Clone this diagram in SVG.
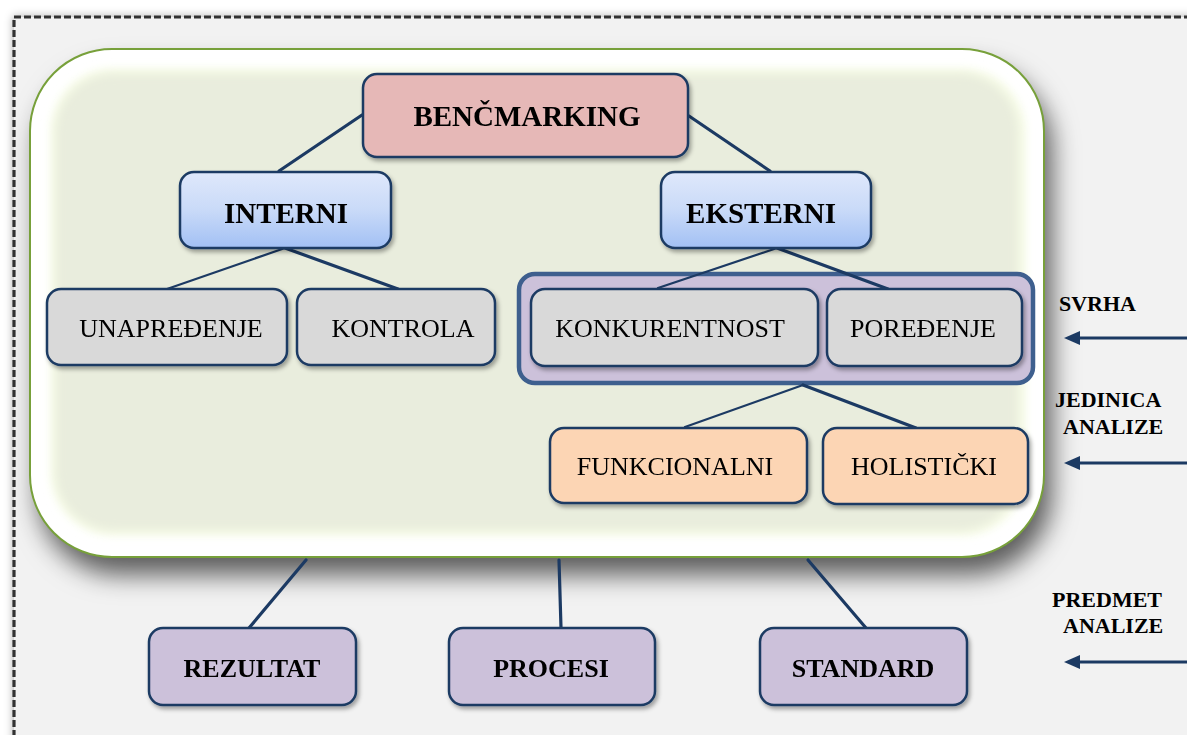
<svg xmlns="http://www.w3.org/2000/svg" width="1187" height="735" viewBox="0 0 1187 735">
  <defs>
    <style>
      .node { stroke: #1C3A63; stroke-width: 2.5; }
      .t { font-family: "Liberation Serif", "Times New Roman", serif; fill: #000; text-anchor: middle; }
      .big { font-size: 29px; font-weight: bold; }
      .mid { font-size: 26px; }
      .bold26 { font-size: 26px; font-weight: bold; }
      .side { font-family: "Liberation Serif", "Times New Roman", serif; font-size: 22px; font-weight: bold; fill: #000; }
      .conn { stroke: #1C3A63; fill: none; stroke-linecap: round; }
      .thin { stroke-width: 2.2; }
      .thick { stroke-width: 3.2; }
      .arrow { stroke: #1C3A63; stroke-width: 3; fill: none; }
    </style>
    <linearGradient id="blueGrad" x1="0" y1="0" x2="0" y2="1">
      <stop offset="0" stop-color="#DFE8FB"/>
      <stop offset="0.5" stop-color="#C9DAF8"/>
      <stop offset="1" stop-color="#A2C0F4"/>
    </linearGradient>
    <filter id="frameShadow" x="-5%" y="-5%" width="110%" height="110%">
      <feDropShadow dx="0" dy="0" stdDeviation="4" flood-color="#000" flood-opacity="0.3"/>
    </filter>
    <filter id="bigShadow" x="-10%" y="-10%" width="125%" height="135%">
      <feDropShadow dx="8" dy="18" stdDeviation="13" flood-color="#000" flood-opacity="0.62"/>
    </filter>
    <filter id="innerSoft" x="-5%" y="-5%" width="110%" height="110%">
      <feGaussianBlur stdDeviation="4"/>
    </filter>
    <filter id="nodeShadow" x="-10%" y="-10%" width="125%" height="135%">
      <feDropShadow dx="2" dy="3" stdDeviation="2" flood-color="#000" flood-opacity="0.35"/>
    </filter>
    <marker id="head" viewBox="0 0 16 14" markerWidth="16" markerHeight="14" refX="8" refY="7" orient="auto" markerUnits="userSpaceOnUse">
      <path d="M0,0 L16,7 L0,14 z" fill="#1C3A63"/>
    </marker>
    <clipPath id="containerClip">
      <rect x="30" y="49" width="1014" height="508" rx="82" ry="82"/>
    </clipPath>
  </defs>

  <!-- page -->
  <rect x="0" y="0" width="1187" height="735" fill="#FFFFFF"/>
  <rect x="14" y="17" width="1200" height="760" fill="#F2F2F2" stroke="#333333" stroke-width="3.2" stroke-dasharray="7 3" filter="url(#frameShadow)"/>

  <!-- main container with soft inner fill -->
  <g id="container">
    <rect x="30" y="49" width="1014" height="508" rx="82" ry="82" fill="#FFFFFF" filter="url(#bigShadow)"/>
    <g clip-path="url(#containerClip)">
      <rect x="50" y="68" width="976" height="468" rx="64" ry="64" fill="#F6FBE6" filter="url(#innerSoft)"/>
      <rect x="56" y="74" width="962" height="456" rx="58" ry="58" fill="#E9EDDD" filter="url(#innerSoft)"/>
    </g>
    <rect x="30" y="49" width="1014" height="508" rx="82" ry="82" fill="none" stroke="#77A03A" stroke-width="2"/>
  </g>

  <!-- frame around the two external comparison types -->
  <g id="g-eksterni-tipovi">
    <rect x="519" y="274" width="514" height="109" rx="16" fill="#CCC1DA" stroke="#3E5F8E" stroke-width="4.5"/>
  </g>

  <!-- connectors -->
  <g id="connectors">
    <line class="conn thick" x1="362" y1="115" x2="279" y2="171"/>
    <line class="conn thick" x1="689" y1="116" x2="770" y2="171"/>
    <line class="conn thin" x1="285" y1="248" x2="167" y2="289"/>
    <line class="conn thick" x1="285" y1="248" x2="398" y2="289"/>
    <line class="conn thin" x1="777" y1="248" x2="658" y2="288"/>
    <line class="conn thick" x1="777" y1="248" x2="888" y2="289"/>
    <line class="conn thin" x1="803" y1="385" x2="685" y2="427"/>
    <line class="conn thick" x1="803" y1="385" x2="916" y2="428"/>
    <line class="conn thick" x1="306" y1="560" x2="249" y2="628"/>
    <line class="conn thick" x1="559" y1="560" x2="561" y2="628"/>
    <line class="conn thick" x1="808" y1="560" x2="866" y2="628"/>
  </g>

  <g id="n-benchmarking" filter="url(#nodeShadow)">
    <rect class="node" x="363" y="74" width="325" height="83" rx="14" fill="#E6B8B7"/>
    <text class="t big" x="527" y="126">BENČMARKING</text>
  </g>

  <g id="n-interni" filter="url(#nodeShadow)">
    <rect class="node" x="180" y="172" width="211" height="76" rx="14" fill="url(#blueGrad)"/>
    <text class="t big" x="286" y="223">INTERNI</text>
  </g>

  <g id="n-eksterni" filter="url(#nodeShadow)">
    <rect class="node" x="661" y="172" width="210" height="76" rx="14" fill="url(#blueGrad)"/>
    <text class="t big" x="761" y="223">EKSTERNI</text>
  </g>

  <g id="n-unapredjenje" filter="url(#nodeShadow)">
    <rect class="node" x="47" y="289" width="240" height="76" rx="14" fill="#D9D9D9"/>
    <text class="t mid" x="171" y="337">UNAPREĐENJE</text>
  </g>

  <g id="n-kontrola" filter="url(#nodeShadow)">
    <rect class="node" x="297" y="289" width="198" height="76" rx="14" fill="#D9D9D9"/>
    <text class="t mid" x="403" y="337">KONTROLA</text>
  </g>

  <g id="n-konkurentnost" filter="url(#nodeShadow)">
    <rect class="node" x="531" y="289" width="287" height="77" rx="14" fill="#D9D9D9"/>
    <text class="t mid" x="670" y="337">KONKURENTNOST</text>
  </g>

  <g id="n-poredjenje" filter="url(#nodeShadow)">
    <rect class="node" x="827" y="289" width="195" height="77" rx="14" fill="#D9D9D9"/>
    <text class="t mid" x="923" y="337">POREĐENJE</text>
  </g>

  <g id="n-funkcionalni" filter="url(#nodeShadow)">
    <rect class="node" x="550" y="428" width="257" height="75" rx="14" fill="#FCD5B4"/>
    <text class="t mid" x="675" y="475">FUNKCIONALNI</text>
  </g>

  <g id="n-holisticki" filter="url(#nodeShadow)">
    <rect class="node" x="823" y="428" width="205" height="76" rx="14" fill="#FCD5B4"/>
    <text class="t mid" x="924" y="475">HOLISTIČKI</text>
  </g>

  <g id="n-rezultat" filter="url(#nodeShadow)">
    <rect class="node" x="149" y="628" width="207" height="77" rx="14" fill="#CCC1DA"/>
    <text class="t bold26" x="252" y="677">REZULTAT</text>
  </g>

  <g id="n-procesi" filter="url(#nodeShadow)">
    <rect class="node" x="449" y="628" width="206" height="77" rx="14" fill="#CCC1DA"/>
    <text class="t bold26" x="551" y="677">PROCESI</text>
  </g>

  <g id="n-standard" filter="url(#nodeShadow)">
    <rect class="node" x="760" y="628" width="207" height="77" rx="14" fill="#CCC1DA"/>
    <text class="t bold26" x="863" y="677">STANDARD</text>
  </g>

  <!-- side legend -->
  <g id="legend">
    <text class="side" x="1059" y="311">SVRHA</text>
    <text class="side" x="1055" y="407">JEDINICA</text>
    <text class="side" x="1063" y="434">ANALIZE</text>
    <text class="side" x="1052" y="607">PREDMET</text>
    <text class="side" x="1063" y="633">ANALIZE</text>
    <line class="arrow" x1="1187" y1="338" x2="1072" y2="338" marker-end="url(#head)"/>
    <line class="arrow" x1="1187" y1="463" x2="1072" y2="463" marker-end="url(#head)"/>
    <line class="arrow" x1="1187" y1="662" x2="1072" y2="662" marker-end="url(#head)"/>
  </g>
</svg>
